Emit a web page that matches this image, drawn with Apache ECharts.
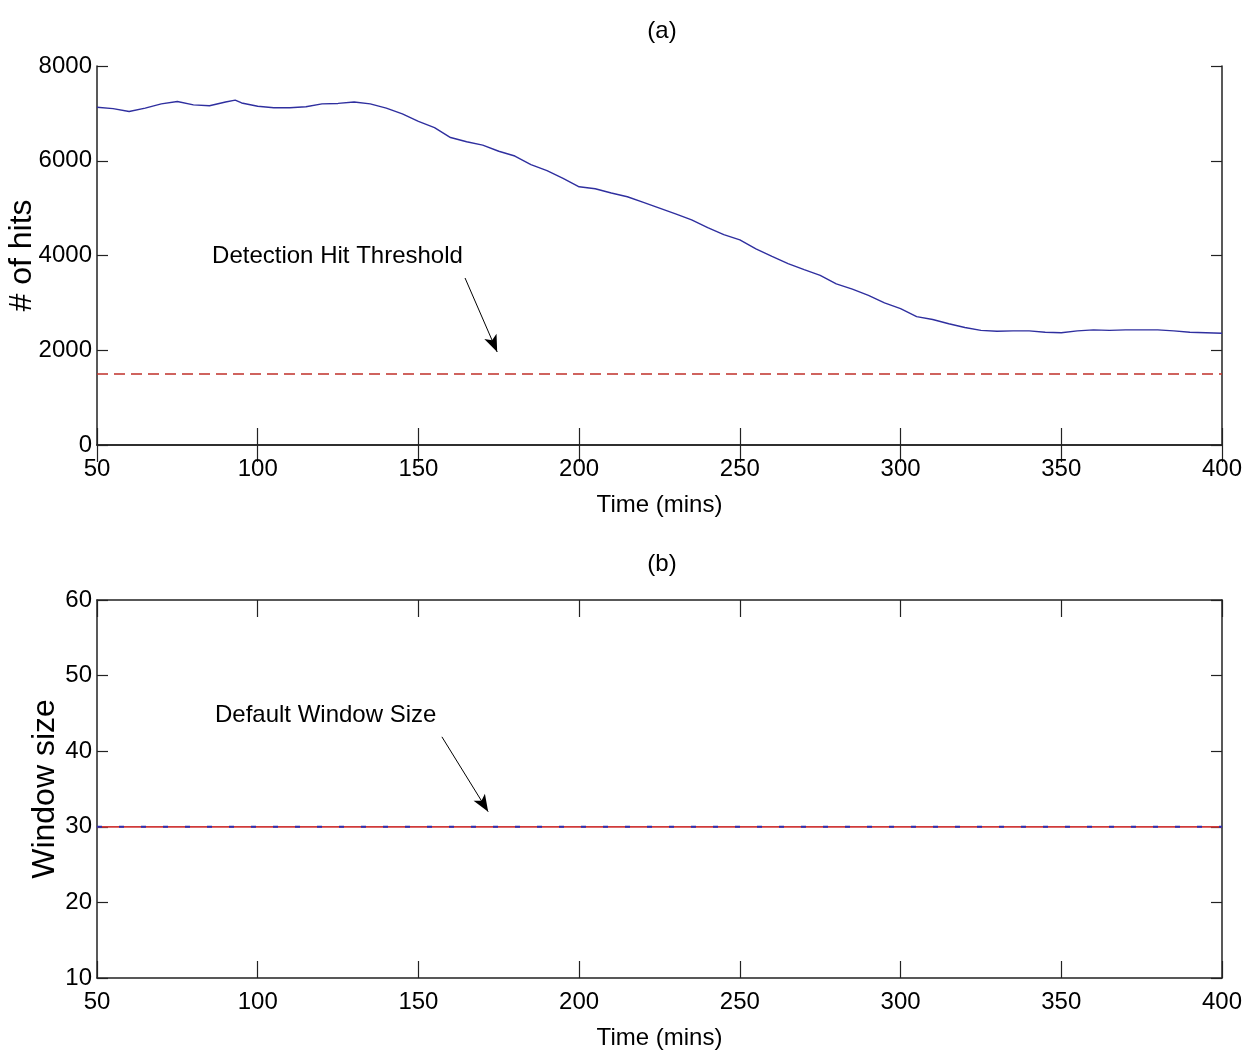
<!DOCTYPE html>
<html>
<head>
<meta charset="utf-8">
<script src="https://cdn.jsdelivr.net/npm/echarts@6/dist/echarts.min.js"></script>
<style>html,body{margin:0;padding:0;background:#fff}#c{width:1247px;height:1059px}</style>
</head>
<body>
<div id="c"></div>
<script>
// ---- data ----
const times = [50,55,60,65,70,75,80,85,90,93,95,100,105,110,115,120,125,130,135,140,145,150,155,160,165,170,175,180,185,190,195,200,205,210,215,220,225,230,235,240,245,250,255,260,265,270,275,280,285,290,295,300,305,310,315,320,325,330,335,340,345,350,355,360,365,370,375,380,385,390,395,400];
const hits = [7130,7100,7040,7110,7200,7250,7180,7160,7240,7280,7220,7150,7120,7120,7140,7200,7210,7240,7200,7110,6990,6830,6700,6490,6400,6330,6200,6100,5920,5790,5630,5450,5410,5320,5240,5120,5000,4880,4750,4590,4440,4330,4140,3980,3830,3700,3580,3400,3290,3160,3000,2880,2710,2650,2560,2480,2420,2400,2410,2410,2380,2370,2410,2430,2420,2430,2430,2430,2410,2380,2370,2360];
const thresholdValue = 1500;
const windowTimes = [50, 400];
const windowSize = [30, 30];
const defaultWindow = [30, 30];
// annotations (data coordinates)
const annotA = {text: 'Detection Hit Threshold', at: [85.8, 3990], arrowFrom: [164.5, 3525], arrowTo: [174.5, 1963]};
const annotB = {text: 'Default Window Size', at: [86.7, 44.7], arrowFrom: [157.3, 41.9], arrowTo: [171.7, 32.0]};

const FONT = '"Liberation Sans", Arial, Helvetica, sans-serif';
const FS = 24;
const AX = '#222';

function xAxes(gi) {
  return [
    {type:'value', gridIndex:gi, min:50, max:400, interval:50, position:'bottom',
     name:'Time (mins)', nameLocation:'middle', nameGap:48, nameMoveOverlap:false,
     nameTextStyle:{fontFamily:FONT, fontSize:24, color:'#000'},
     axisLine:{lineStyle:{color:AX, width:1.5}},
     axisTick:{inside:true, length:17, lineStyle:{color:AX, width:1.2}},
     axisLabel:{fontFamily:FONT, fontSize:FS, color:'#000', margin:12, formatter:v=>String(v)},
     splitLine:{show:false}},
    {type:'value', gridIndex:gi, min:50, max:400, interval:50, position:'top',
     axisLine:{lineStyle:{color:AX, width:1.5}},
     axisTick:{inside:true, length:17, lineStyle:{color:AX, width:1.2}},
     axisLabel:{show:false}, splitLine:{show:false}}
  ];
}
function yAxes(gi, min, max, interval, name, gap, nfs) {
  return [
    {type:'value', gridIndex:gi, min:min, max:max, interval:interval, position:'left',
     name:name, nameLocation:'middle', nameGap:gap, nameRotate:90, nameMoveOverlap:false,
     nameTextStyle:{fontFamily:FONT, fontSize:nfs, color:'#000'},
     axisLine:{lineStyle:{color:AX, width:1.5}},
     axisTick:{inside:true, length:11, lineStyle:{color:AX, width:1.2}},
     axisLabel:{fontFamily:FONT, fontSize:FS, color:'#000', margin:5, formatter:v=>String(v)},
     splitLine:{show:false}},
    {type:'value', gridIndex:gi, min:min, max:max, interval:interval, position:'right',
     axisLine:{lineStyle:{color:AX, width:1.5}},
     axisTick:{inside:true, length:11, lineStyle:{color:AX, width:1.2}},
     axisLabel:{show:false}, splitLine:{show:false}}
  ];
}

function annotation(a, xi, yi) {
  return {
    type:'line', xAxisIndex:xi, yAxisIndex:yi, data:[], silent:true,
    markLine:{
      silent:true, symbol:['none','arrow'], symbolSize:[10,17],
      lineStyle:{color:'#000', width:1, type:'solid'},
      label:{show:false},
      data:[[{coord:a.arrowFrom}, {coord:a.arrowTo}]]
    },
    markPoint:{
      silent:true, symbol:'circle', symbolSize:0,
      label:{show:true, position:'right', distance:0, formatter:a.text,
             fontFamily:FONT, fontSize:24, color:'#000'},
      data:[{coord:a.at}]
    }
  };
}

const chart = echarts.init(document.getElementById('c'), null, {renderer:'canvas'});
chart.setOption({
  animation:false,
  backgroundColor:'#fff',
  title:[
    {text:'(a)', left:657, top:14, textAlign:'center', textStyle:{fontFamily:FONT, fontSize:24, fontWeight:'normal', color:'#000'}},
    {text:'(b)', left:657, top:547, textAlign:'center', textStyle:{fontFamily:FONT, fontSize:24, fontWeight:'normal', color:'#000'}}
  ],
  grid:[
    {left:97, right:25, top:66, height:379, outerBoundsMode:'none', containLabel:false},
    {left:97, right:25, top:600, height:378, outerBoundsMode:'none', containLabel:false}
  ],
  xAxis: [...xAxes(0), ...xAxes(1)],
  yAxis: [...yAxes(0, 0, 8000, 2000, '# of hits', 59, 32), ...yAxes(1, 10, 60, 10, 'Window size', 36, 32)],
  series:[
    {type:'line', xAxisIndex:0, yAxisIndex:0, data:times.map((t,i)=>[t,hits[i]]),
     showSymbol:false, lineStyle:{color:'#2f2f9f', width:1.4}},
    {type:'line', xAxisIndex:0, yAxisIndex:0, data:[[50,thresholdValue],[400,thresholdValue]],
     showSymbol:false, lineStyle:{color:'#c0302a', width:1.6, type:[11,6]}},
    annotation(annotA, 0, 0),
    {type:'line', xAxisIndex:2, yAxisIndex:2, data:windowTimes.map((t,i)=>[t,defaultWindow[i]]),
     showSymbol:false, lineStyle:{color:'#d03a3a', width:1.8}},
    {type:'line', xAxisIndex:2, yAxisIndex:2, data:windowTimes.map((t,i)=>[t,windowSize[i]]),
     showSymbol:false, lineStyle:{color:'#2f2fb0', width:2, type:[5,17]}},
    annotation(annotB, 2, 2)
  ]
});
</script>
</body>
</html>
